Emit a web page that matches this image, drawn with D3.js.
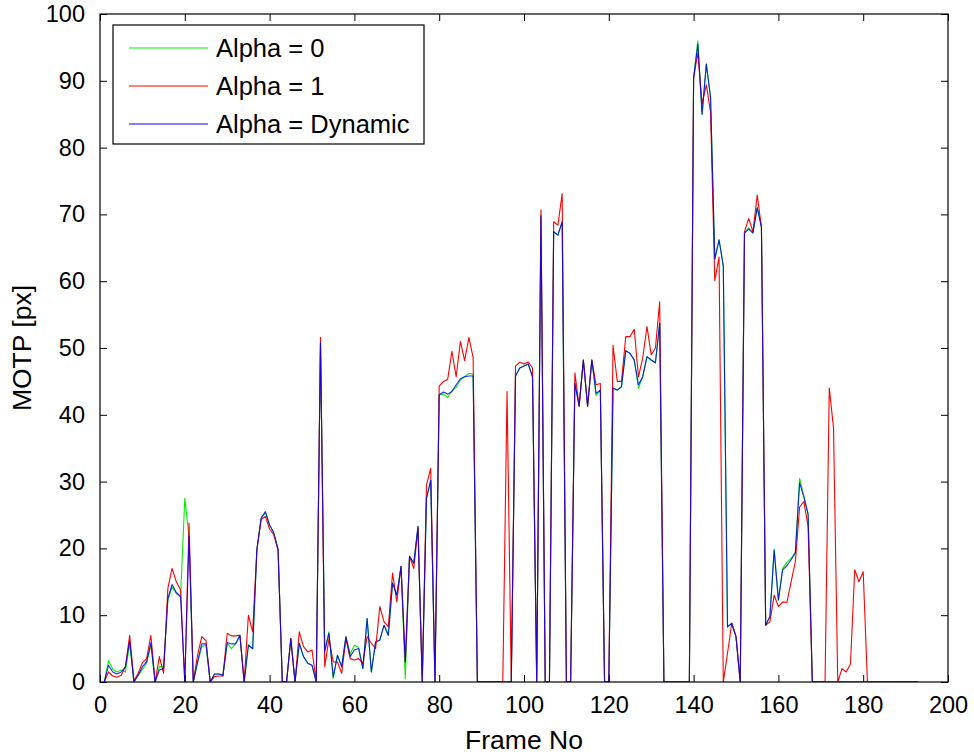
<!DOCTYPE html>
<html>
<head>
<meta charset="utf-8">
<script src="https://cdn.jsdelivr.net/npm/d3@7"></script>
<style>
  html, body { margin: 0; padding: 0; background: #fff; }
  svg { display: block; }
  text { font-family: Arial, "Liberation Sans", Helvetica, sans-serif; fill: #000; }
</style>
</head>
<body>
<svg id="chart" width="974" height="754"></svg>
<script>
// ---- data (frames 1..193) ----
const xTicks = [0, 20, 40, 60, 80, 100, 120, 140, 160, 180, 200];
const yTicks = [0, 10, 20, 30, 40, 50, 60, 70, 80, 90, 100];
const seriesNames = ["Alpha = 0", "Alpha = 1", "Alpha = Dynamic"];
const seriesColors = ["#00f000", "#ff0000", "#0000ff"];
const firstFrame = 1;

const alpha0 = [
  0, 3.2, 1.9, 1.5, 1.8, 1.5, 5.8, 0, 1.0, 1.9,
  2.8, 5.6, 0, 2.3, 2.3, 12.2, 14.2, 13.2, 12.8, 27.5,
  21.8, 0, 2.8, 5.3, 5.5, 0, 1.2, 1.2, 1.0, 5.8,
  5.0, 5.8, 7.0, 0, 5.6, 5.0, 19.8, 24.5, 25.4, 23.5,
  22.3, 19.8, 0, 0, 6.5, 0, 5.8, 3.8, 2.8, 2.5,
  0, 50.8, 4.8, 7.5, 0.5, 4.0, 2.3, 6.8, 4.2, 5.5,
  5.2, 2.0, 9.5, 1.5, 6.0, 6.3, 8.5, 7.0, 14.8, 13.0,
  17.3, 0.5, 18.8, 17.8, 23.3, 0, 27.5, 30.2, 0, 43.0,
  43.1, 42.6, 43.6, 44.1, 45.2, 45.7, 46.2, 46.1, 0, 0,
  0, 0, 0, 0, 0, 0, 0, 45.8, 47.0, 47.3,
  47.6, 45.7, 0, 69.8, 0, 0, 67.4, 66.9, 68.9, 0,
  0, 44.7, 41.3, 48.2, 41.3, 48.2, 42.9, 43.7, 0, 0,
  44.0, 43.7, 44.2, 49.6, 49.2, 48.2, 44.0, 45.7, 48.7, 48.2,
  47.8, 53.7, 0, 0, 0, 0, 0, 0, 0, 90.4,
  96.0, 85.0, 92.5, 87.5, 63.3, 66.2, 62.3, 8.3, 8.8, 6.8,
  0, 67.3, 68.0, 67.3, 71.0, 68.1, 8.5, 9.8, 19.9, 12.2,
  17.0, 17.9, 18.5, 19.5, 30.5, 27.8, 25.2, 0, 0, 0,
  0, 0, 0, 0, 0, 0, 0, 0, 0, 0,
  0, 0, 0, 0, 0, 0, 0, 0, 0, 0,
  0, 0, 0
];

const alpha1 = [
  0, 1.5, 0.9, 0.7, 1.0, 2.3, 7.0, 0.2, 1.3, 2.9,
  3.5, 7.0, 0, 3.8, 1.3, 14.0, 17.0, 15.0, 13.8, 0,
  23.8, 0, 4.0, 6.8, 6.2, 0, 0.8, 0.9, 0.9, 7.3,
  6.9, 6.9, 7.0, 0, 10.0, 7.5, 19.8, 24.3, 24.8, 22.9,
  22.0, 19.8, 0, 0, 6.5, 0, 7.5, 5.3, 4.5, 4.8,
  0, 51.6, 2.3, 6.5, 3.0, 3.0, 1.3, 6.5, 3.5, 3.3,
  3.5, 2.8, 6.8, 5.8, 5.0, 11.3, 9.0, 8.3, 16.3, 12.0,
  17.3, 3.0, 18.8, 17.0, 23.0, 0, 29.5, 32.0, 0, 44.3,
  45.0, 45.3, 49.5, 45.7, 51.0, 48.1, 51.6, 48.6, 0, 0,
  0, 0, 0, 0, 0, 43.5, 0, 47.3, 47.9, 47.6,
  47.9, 47.0, 0, 70.7, 0, 0, 68.9, 68.4, 73.1, 0,
  0, 46.3, 41.3, 48.2, 41.3, 48.2, 44.5, 44.7, 0, 0,
  50.4, 45.0, 45.0, 51.7, 51.7, 52.8, 45.7, 48.5, 53.2, 49.0,
  50.0, 56.9, 0, 0, 0, 0, 0, 0, 0, 90.4,
  94.2, 86.6, 89.4, 85.3, 60.1, 63.6, 0, 4.3, 8.8, 6.8,
  0, 67.4, 69.4, 67.4, 72.9, 68.1, 8.5, 9.0, 13.0, 11.3,
  12.0, 11.9, 15.0, 18.0, 26.2, 27.0, 23.3, 0, 0, 0,
  0, 44.0, 38.0, 0, 2.0, 1.5, 2.7, 16.8, 15.0, 16.5,
  0, 0, 0, 0, 0, 0, 0, 0, 0, 0,
  0, 0, 0
];

const alphaDyn = [
  0, 2.5, 1.5, 1.2, 1.5, 2.3, 6.2, 0, 1.0, 2.3,
  3.0, 5.9, 0, 1.8, 2.0, 12.5, 14.6, 13.4, 12.8, 0,
  21.8, 0, 3.0, 5.7, 5.7, 0, 1.2, 1.2, 1.0, 5.9,
  5.7, 5.7, 7.0, 0, 5.5, 5.0, 19.8, 24.5, 25.5, 23.5,
  22.3, 19.8, 0, 0, 6.5, 0, 5.8, 3.8, 2.8, 2.5,
  0, 50.8, 4.5, 7.3, 0.8, 4.0, 2.3, 6.8, 3.8, 4.8,
  5.0, 2.0, 9.5, 1.5, 6.0, 6.3, 8.5, 7.0, 14.8, 13.0,
  17.3, 3.0, 18.8, 17.8, 23.3, 0, 27.5, 30.2, 0, 43.0,
  43.4, 43.1, 43.5, 44.5, 45.4, 45.7, 45.8, 45.8, 0, 0,
  0, 0, 0, 0, 0, 0, 0, 45.8, 47.0, 47.3,
  47.6, 45.7, 0, 69.8, 0, 0, 67.4, 66.9, 68.9, 0,
  0, 44.7, 41.3, 48.2, 41.3, 48.2, 43.2, 43.7, 0, 0,
  44.0, 43.7, 44.2, 49.6, 49.2, 48.2, 44.5, 45.7, 48.7, 48.2,
  47.8, 53.7, 0, 0, 0, 0, 0, 0, 0, 90.4,
  95.5, 85.0, 92.5, 87.5, 63.3, 66.2, 62.3, 8.2, 8.8, 6.8,
  0, 67.2, 67.8, 67.2, 71.0, 68.1, 8.5, 9.8, 19.7, 12.3,
  16.8, 17.4, 18.3, 19.3, 29.8, 27.7, 25.1, 0, 0, 0,
  0, 0, 0, 0, 0, 0, 0, 0, 0, 0,
  0, 0, 0, 0, 0, 0, 0, 0, 0, 0,
  0, 0, 0
];

const seriesValues = [alpha0, alpha1, alphaDyn];

// ---- layout ----
const svg = d3.select("#chart");
const W = 974, H = 754;
const margin = { left: 100, top: 14, right: W - 948, bottom: H - 682 };
const x = d3.scaleLinear().domain([0, 200]).range([margin.left, W - margin.right]);
const y = d3.scaleLinear().domain([0, 100]).range([H - margin.bottom, margin.top]);
const tickFont = 23.5;
const legendFont = 25.5;
const titleFont = 26.5;
const tickLen = 7;

// clip
svg.append("defs").append("clipPath").attr("id", "clip")
  .append("rect")
  .attr("x", x(0)).attr("y", y(100))
  .attr("width", x(200) - x(0)).attr("height", y(0) - y(100));

// lines
const line = d3.line()
  .x((d, i) => x(firstFrame + i))
  .y(d => y(d));

const gLines = svg.append("g").attr("clip-path", "url(#clip)");
seriesValues.forEach((vals, k) => {
  gLines.append("path")
    .datum(vals)
    .attr("d", line)
    .attr("fill", "none")
    .attr("stroke", seriesColors[k])
    .attr("stroke-width", 1.1)
    .attr("stroke-linejoin", "round")
    .attr("opacity", k === 2 ? 0.85 : 1);
});

// axes (MATLAB style: ticks inside on all four sides)
const axBottom = d3.axisBottom(x).tickValues(xTicks).tickSize(-tickLen).tickPadding(tickLen + 7).tickFormat(d3.format("d"));
const axTop = d3.axisTop(x).tickValues(xTicks).tickSize(-tickLen).tickFormat("");
const axLeft = d3.axisLeft(y).tickValues(yTicks).tickSize(-tickLen).tickPadding(tickLen + 8).tickFormat(d3.format("d"));
const axRight = d3.axisRight(y).tickValues(yTicks).tickSize(-tickLen).tickFormat("");

function styleAxis(g) {
  g.select(".domain").remove();
  g.selectAll(".tick line").attr("stroke", "#000").attr("stroke-width", 1);
  g.selectAll(".tick text").attr("font-size", tickFont).attr("fill", "#000")
    .style("font-family", "Arial, 'Liberation Sans', sans-serif");
}

svg.append("g").attr("transform", `translate(0,${y(0)})`).call(axBottom).call(styleAxis);
svg.append("g").attr("transform", `translate(0,${y(100)})`).call(axTop).call(styleAxis);
svg.append("g").attr("transform", `translate(${x(0)},0)`).call(axLeft).call(styleAxis);
svg.append("g").attr("transform", `translate(${x(200)},0)`).call(axRight).call(styleAxis);

// frame
svg.append("rect")
  .attr("x", x(0)).attr("y", y(100))
  .attr("width", x(200) - x(0)).attr("height", y(0) - y(100))
  .attr("fill", "none").attr("stroke", "#000").attr("stroke-width", 1.2);

// axis titles
svg.append("text")
  .attr("x", (x(0) + x(200)) / 2).attr("y", 749)
  .attr("text-anchor", "middle").attr("font-size", titleFont)
  .text("Frame No");
svg.append("text")
  .attr("transform", `translate(31,${(y(0) + y(100)) / 2}) rotate(-90)`)
  .attr("text-anchor", "middle").attr("font-size", titleFont)
  .text("MOTP [px]");

// legend
const leg = svg.append("g");
leg.append("rect")
  .attr("x", 113).attr("y", 25).attr("width", 311).attr("height", 119)
  .attr("fill", "#fff").attr("stroke", "#000").attr("stroke-width", 1.2);
const legY = [48, 86, 124];
seriesNames.forEach((name, k) => {
  leg.append("line")
    .attr("x1", 129).attr("x2", 208)
    .attr("y1", legY[k]).attr("y2", legY[k])
    .attr("stroke", seriesColors[k]).attr("stroke-width", 1.1);
  leg.append("text")
    .attr("x", 216).attr("y", legY[k]).attr("dy", "0.35em")
    .attr("font-size", legendFont)
    .text(name);
});
</script>
</body>
</html>
